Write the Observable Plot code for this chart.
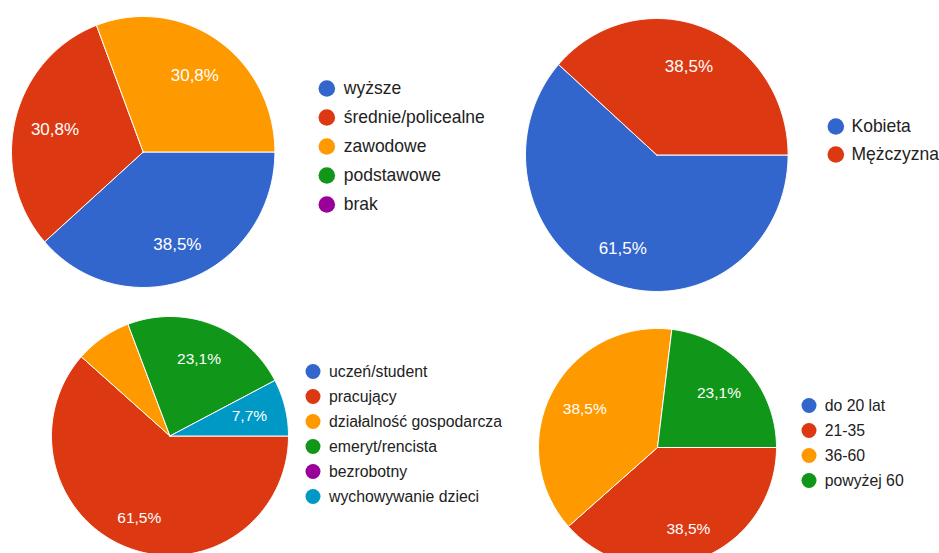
<!DOCTYPE html>
<html>
<head>
<meta charset="utf-8">
<script src="https://cdn.jsdelivr.net/npm/d3@7"></script>
<script src="https://cdn.jsdelivr.net/npm/@observablehq/plot@0.6"></script>
<style>
  html, body { margin: 0; padding: 0; background: #fff; }
  #root { position: relative; width: 939px; height: 553px; overflow: hidden; background: #fff; }
  #root svg { position: absolute; background: transparent; }
</style>
</head>
<body>
<div id="root"></div>
<script>
// ---- data ----
const palette = ["#3366cc", "#dc3912", "#ff9900", "#109618", "#990099", "#0099c6"];

const wyksztalcenieKategorie = ["wyższe", "średnie/policealne", "zawodowe", "podstawowe", "brak"];
const wyksztalcenieLiczba = [5, 4, 4, 0, 0];
const wyksztalceniePokaz = [true, true, true, true, true];

const plecKategorie = ["Kobieta", "Mężczyzna"];
const plecLiczba = [8, 5];
const plecPokaz = [true, true];

const zatrudnienieKategorie = ["uczeń/student", "pracujący", "działalność gospodarcza", "emeryt/rencista", "bezrobotny", "wychowywanie dzieci"];
const zatrudnienieLiczba = [0, 8, 1, 3, 0, 1];
const zatrudnieniePokaz = [true, true, false, true, true, true];

const wiekKategorie = ["do 20 lat", "21-35", "36-60", "powyżej 60"];
const wiekLiczba = [0, 5, 5, 3];
const wiekPokaz = [true, true, true, true];

// ---- layout (not data) ----
const FONT = '"Liberation Sans", Arial, Helvetica, sans-serif';
const charts = [
  {cats: wyksztalcenieKategorie, vals: wyksztalcenieLiczba, show: wyksztalceniePokaz,
   cx: 142.7, cy: 151.2, rx: 131.7, ry: 135.5, pct: 17,
   lx: 326, ly0: 88.3, lstep: 29, lr: 8.3, tx: 343, lsize: 17.5},
  {cats: plecKategorie, vals: plecLiczba, show: plecPokaz,
   cx: 656.3, cy: 154, rx: 131.3, ry: 136.5, pct: 17,
   lx: 835, ly0: 125, lstep: 29, lr: 8.3, tx: 850.7, lsize: 17.5},
  {cats: zatrudnienieKategorie, vals: zatrudnienieLiczba, show: zatrudnieniePokaz,
   cx: 169.5, cy: 435, rx: 118.5, ry: 119.5, pct: 15.5,
   lx: 312.3, ly0: 370.8, lstep: 25.3, lr: 7.5, tx: 328.3, lsize: 15.8},
  {cats: wiekKategorie, vals: wiekLiczba, show: wiekPokaz,
   cx: 657, cy: 447.3, rx: 119, ry: 119, pct: 15.5,
   lx: 808.3, ly0: 403.3, lstep: 25.8, lr: 7.5, tx: 824, lsize: 15.8}
];

const root = document.getElementById("root");
const START = 90; // slices start at 3 o'clock, clockwise

function fmtPct(v, total) {
  return (v / total * 100).toFixed(1).replace(".", ",") + "%";
}

function drawPie(c) {
  const total = d3.sum(c.vals);
  let acc = 0;
  const slices = [];
  c.vals.forEach((v, i) => {
    const a0 = START + acc / total * 360;
    acc += v;
    const a1 = START + acc / total * 360;
    if (v > 0) slices.push({i, v, a0, a1});
  });
  const rad = a => a * Math.PI / 180;
  const sliceMarks = slices.map(s => {
    const pts = [{x: 0, y: 0}];
    const n = Math.max(2, Math.ceil(s.a1 - s.a0));
    for (let k = 0; k <= n; k++) {
      const a = rad(s.a0 + (s.a1 - s.a0) * k / n);
      pts.push({x: Math.sin(a), y: Math.cos(a)});
    }
    pts.push({x: 0, y: 0});
    return Plot.line(pts, {x: "x", y: "y", fill: palette[s.i], stroke: "white",
      strokeWidth: 1, strokeLinejoin: "round", curve: "linear"});
  });
  const labels = slices.filter(s => c.show[s.i]).map(s => {
    const m = rad((s.a0 + s.a1) / 2);
    const k = 0.69 + 0.045 * Math.max(0, -Math.cos(m));
    return {x: k * Math.sin(m), y: k * Math.cos(m), t: fmtPct(s.v, total)};
  });
  const pad = 2;
  const W = 2 * c.rx + 2 * pad, H = 2 * c.ry + 2 * pad;
  const svg = Plot.plot({
    width: W, height: H, margin: 0,
    style: {background: "transparent", fontFamily: FONT, overflow: "visible"},
    x: {domain: [-1, 1], range: [pad, W - pad], axis: null},
    y: {domain: [-1, 1], range: [H - pad, pad], axis: null},
    marks: [
      ...sliceMarks,
      Plot.text(labels, {x: "x", y: "y", text: "t", fill: "white",
        fontSize: c.pct, fontFamily: FONT})
    ]
  });
  svg.style.left = (c.cx - c.rx - pad) + "px";
  svg.style.top = (c.cy - c.ry - pad) + "px";
  root.appendChild(svg);
}

function drawLegend(c) {
  const n = c.cats.length;
  const topPad = c.lr + 6;
  const W = 300;
  const H = (n - 1) * c.lstep + 2 * topPad;
  const x0 = c.lr + 1;
  const svg = Plot.plot({
    width: W, height: H, margin: 0,
    style: {background: "transparent", fontFamily: FONT, overflow: "visible"},
    x: {domain: [0, 1], range: [x0, x0 + (c.tx - c.lx)], axis: null},
    y: {type: "point", domain: c.cats, range: [topPad, topPad + (n - 1) * c.lstep], padding: 0, axis: null},
    color: {domain: c.cats, range: palette.slice(0, n)},
    marks: [
      Plot.dot(c.cats, {x: () => 0, y: d => d, r: c.lr, fill: d => d, stroke: null}),
      Plot.text(c.cats, {x: () => 1, y: d => d, text: d => d, textAnchor: "start",
        fill: "#222222", fontSize: c.lsize, fontFamily: FONT})
    ]
  });
  svg.style.left = (c.lx - x0) + "px";
  svg.style.top = (c.ly0 - topPad) + "px";
  root.appendChild(svg);
}

charts.forEach(c => { drawPie(c); drawLegend(c); });
</script>
</body>
</html>
